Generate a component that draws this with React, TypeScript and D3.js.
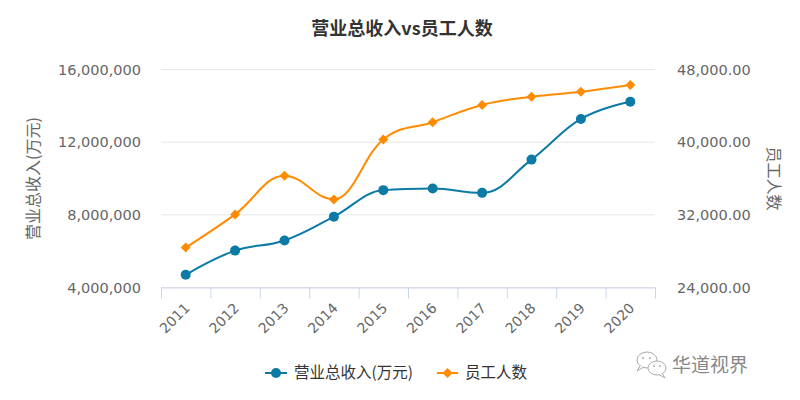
import React from "react";
import * as d3 from "d3";

const years = ["2011", "2012", "2013", "2014", "2015", "2016", "2017", "2018", "2019", "2020"];
const revenue = [4700000, 6030000, 6590000, 7900000, 9360000, 9450000, 9210000, 11040000, 13280000, 14230000];
const staff = [28400, 32050, 36300, 33700, 40300, 42200, 44100, 45000, 45560, 46300];
const leftTicks = [4000000, 8000000, 12000000, 16000000];
const rightTicks = [24000, 32000, 40000, 48000];

const title = "营业总收入vs员工人数";
const leftTitle = "营业总收入(万元)";
const rightTitle = "员工人数";
const seriesNames = ["营业总收入(万元)", "员工人数"];
const watermark = "华道视界";

const BLUE = "#0b7aa5";
const ORANGE = "#ff8c00";
const FONT = "'DejaVu Sans', 'Noto Sans CJK SC', sans-serif";
const CJK = "'Noto Sans CJK SC', 'DejaVu Sans', sans-serif";

type P = { x: number; y: number };

function hcSpline(pts: P[]): string {
  const smoothing = 1.5;
  const denom = smoothing + 1;
  const ctrl: { lx: number; ly: number; rx: number; ry: number }[] = pts.map((p) => ({ lx: p.x, ly: p.y, rx: p.x, ry: p.y }));
  for (let i = 1; i < pts.length - 1; i++) {
    const last = pts[i - 1], p = pts[i], next = pts[i + 1];
    let lx = (smoothing * p.x + last.x) / denom;
    let ly = (smoothing * p.y + last.y) / denom;
    let rx = (smoothing * p.x + next.x) / denom;
    let ry = (smoothing * p.y + next.y) / denom;
    if (rx !== lx) {
      const corr = ((ry - ly) * (rx - p.x)) / (rx - lx) + p.y - ry;
      ly += corr;
      ry += corr;
    }
    if (ly > last.y && ly > p.y) {
      ly = Math.max(last.y, p.y);
      ry = 2 * p.y - ly;
    } else if (ly < last.y && ly < p.y) {
      ly = Math.min(last.y, p.y);
      ry = 2 * p.y - ly;
    }
    if (ry > next.y && ry > p.y) {
      ry = Math.max(next.y, p.y);
      ly = 2 * p.y - ry;
    } else if (ry < next.y && ry < p.y) {
      ry = Math.min(next.y, p.y);
      ly = 2 * p.y - ry;
    }
    ctrl[i] = { lx, ly, rx, ry };
  }
  const path = d3.path();
  pts.forEach((p, i) => {
    if (i === 0) path.moveTo(p.x, p.y);
    else path.bezierCurveTo(ctrl[i - 1].rx, ctrl[i - 1].ry, ctrl[i].lx, ctrl[i].ly, p.x, p.y);
  });
  return path.toString();
}

export default function App() {
  const W = 800, H = 400;
  const x0 = 161, x1 = 655, yTop = 69.5, yBot = 287.5;
  const xBand = d3.scaleBand<string>().domain(years).range([x0, x1]).padding(0);
  const xc = (y: string) => (xBand(y) as number) + xBand.bandwidth() / 2;
  const yL = d3.scaleLinear().domain([4000000, 16000000]).range([yBot, yTop]);
  const yR = d3.scaleLinear().domain([24000, 48000]).range([yBot, yTop]);
  const fmtL = d3.format(",");
  const fmtR = d3.format(",.2f");

  const revPts = years.map((y, i) => ({ x: xc(y), y: yL(revenue[i]) }));
  const staffPts = years.map((y, i) => ({ x: xc(y), y: yR(staff[i]) }));

  const diamond = (cx: number, cy: number, r: number) => `M${cx},${cy - r}L${cx + r},${cy}L${cx},${cy + r}L${cx - r},${cy}Z`;
  const edges = [...years.map((y) => xBand(y) as number), x1];

  return (
    <div style={{ position: "fixed", left: 0, top: 0 }}>
      <svg width={W} height={H} style={{ display: "block", background: "#fff" }}>
        <text x={402} y={35} textAnchor="middle" fontFamily={CJK} fontSize={18} fontWeight="bold" fill="#333">{title}</text>

        {leftTicks.map((t) => (
          <line key={"g" + t} x1={x0} x2={x1} y1={yL(t)} y2={yL(t)} stroke="#e6e6e6" strokeWidth={1} />
        ))}
        <line x1={x0} x2={x1} y1={yBot + 0.5} y2={yBot + 0.5} stroke="#ccd6eb" strokeWidth={1} />
        {edges.map((e, i) => (
          <line key={"t" + i} x1={e + 0.5} x2={e + 0.5} y1={yBot} y2={yBot + 11} stroke="#ccd6eb" strokeWidth={1} />
        ))}

        {leftTicks.map((t) => (
          <text key={"l" + t} x={141} y={yL(t)} dy="0.35em" textAnchor="end" fontFamily={FONT} fontSize={14.5} fill="#666">{fmtL(t)}</text>
        ))}
        {rightTicks.map((t) => (
          <text key={"r" + t} x={677} y={yR(t)} dy="0.35em" textAnchor="start" fontFamily={FONT} fontSize={14.5} fill="#666">{fmtR(t)}</text>
        ))}
        {years.map((y) => (
          <text key={"x" + y} transform={`translate(${xc(y) + 5},${309}) rotate(-45)`} textAnchor="end" fontFamily={FONT} fontSize={14} fill="#666">{y}</text>
        ))}

        <text transform={`translate(39,${(yTop + yBot) / 2}) rotate(-90)`} textAnchor="middle" fontFamily={CJK} fontSize={16} fill="#666">{leftTitle}</text>
        <text transform={`translate(768,${(yTop + yBot) / 2}) rotate(90)`} textAnchor="middle" fontFamily={CJK} fontSize={16} fill="#666">{rightTitle}</text>

        <path d={hcSpline(staffPts)} fill="none" stroke={ORANGE} strokeWidth={2} />
        {staffPts.map((p, i) => (
          <path key={"sd" + i} d={diamond(p.x, p.y, 5)} fill={ORANGE} />
        ))}
        <path d={hcSpline(revPts)} fill="none" stroke={BLUE} strokeWidth={2} />
        {revPts.map((p, i) => (
          <circle key={"rc" + i} cx={p.x} cy={p.y} r={5} fill={BLUE} />
        ))}

        <g>
          <line x1={265} x2={287} y1={373} y2={373} stroke={BLUE} strokeWidth={2} />
          <circle cx={276} cy={373} r={5} fill={BLUE} />
          <text x={294} y={373} dy="0.35em" fontFamily={CJK} fontSize={15.5} fill="#333">{seriesNames[0]}</text>
          <line x1={437} x2={458} y1={373} y2={373} stroke={ORANGE} strokeWidth={2} />
          <path d={diamond(447.5, 373, 5)} fill={ORANGE} />
          <text x={465} y={373} dy="0.35em" fontFamily={CJK} fontSize={15.5} fill="#333">{seriesNames[1]}</text>
        </g>

        <g fill="none" stroke="#aaa" strokeWidth={1}>
          <ellipse cx={647} cy={360} rx={10} ry={8} fill="#fff" />
          <path d="M640,366 L637,371 L644,367" fill="#fff" />
          <ellipse cx={657} cy={368} rx={9} ry={7} fill="#fff" />
          <path d="M662,373 L665,378 L659,374.5" fill="#fff" />
          <circle cx={643} cy={358} r={1} fill="#aaa" stroke="none" />
          <circle cx={650} cy={358} r={1} fill="#aaa" stroke="none" />
          <circle cx={654} cy={366} r={0.9} fill="#aaa" stroke="none" />
          <circle cx={660} cy={366} r={0.9} fill="#aaa" stroke="none" />
        </g>
        <text x={672} y={365} dy="0.35em" fontFamily={CJK} fontSize={19} fill="#888">{watermark}</text>
      </svg>
    </div>
  );
}
